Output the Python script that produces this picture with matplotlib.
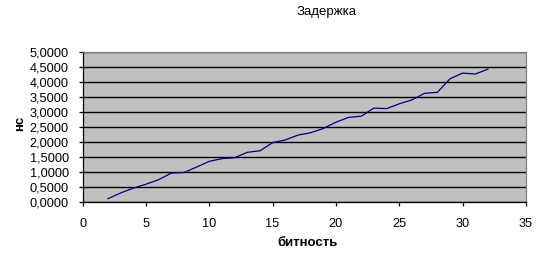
import numpy as np
import matplotlib
matplotlib.use("Agg")
import matplotlib.pyplot as plt
from matplotlib.ticker import FuncFormatter

plt.rcParams['font.family'] = ['Liberation Sans', 'DejaVu Sans']

# data
bits = [2, 3, 4, 5, 6, 7, 8, 9, 10, 11, 12, 13, 14, 15, 16, 17,
        18, 19, 20, 21, 22, 23, 24, 25, 26, 27, 28, 29, 30, 31, 32]
delay = [0.12, 0.31, 0.47, 0.60, 0.75, 0.97, 0.99, 1.17, 1.36, 1.45, 1.48,
         1.66, 1.71, 1.98, 2.07, 2.23, 2.31, 2.45, 2.66, 2.82, 2.86, 3.13,
         3.11, 3.27, 3.40, 3.62, 3.65, 4.10, 4.29, 4.26, 4.42]

title = "Задержка"
xlab = "битность"
ylab = "нс"

fig = plt.figure(figsize=(5.4, 2.63), dpi=100)
ax = fig.add_axes([0.153, 0.2308, 0.821, 0.5726])
ax.set_facecolor('#C0C0C0')

ax.plot(bits, delay, color='#000080', linewidth=0.9)

ax.set_xlim(0, 35)
ax.set_ylim(0, 5)
ax.set_xticks(np.arange(0, 36, 5))
ax.set_yticks(np.arange(0, 5.01, 0.5))
ax.yaxis.set_major_formatter(FuncFormatter(lambda v, p: ("%.4f" % v).replace('.', ',')))

ax.grid(True, axis='y', color='black', linewidth=1.0)
ax.set_axisbelow(True)

for s in ['top', 'right']:
    ax.spines[s].set_color('#808080')
for s in ['left', 'bottom']:
    ax.spines[s].set_color('black')
for s in ax.spines.values():
    s.set_linewidth(0.9)

ax.tick_params(axis='both', direction='out', length=3, width=0.9,
               labelsize=9.2, colors='black')
ax.tick_params(axis='y', pad=7)
ax.tick_params(axis='x', pad=8)

fig.text(0.604, 0.954, title, ha='center', va='center', fontsize=9.5)
fig.text(0.569, 0.076, xlab, ha='center', va='center', fontsize=9.5, fontweight='bold')
fig.text(0.037, 0.532, ylab, ha='center', va='center', fontsize=9.5,
         fontweight='bold', rotation=90)

fig.savefig("out.png", dpi=100)
